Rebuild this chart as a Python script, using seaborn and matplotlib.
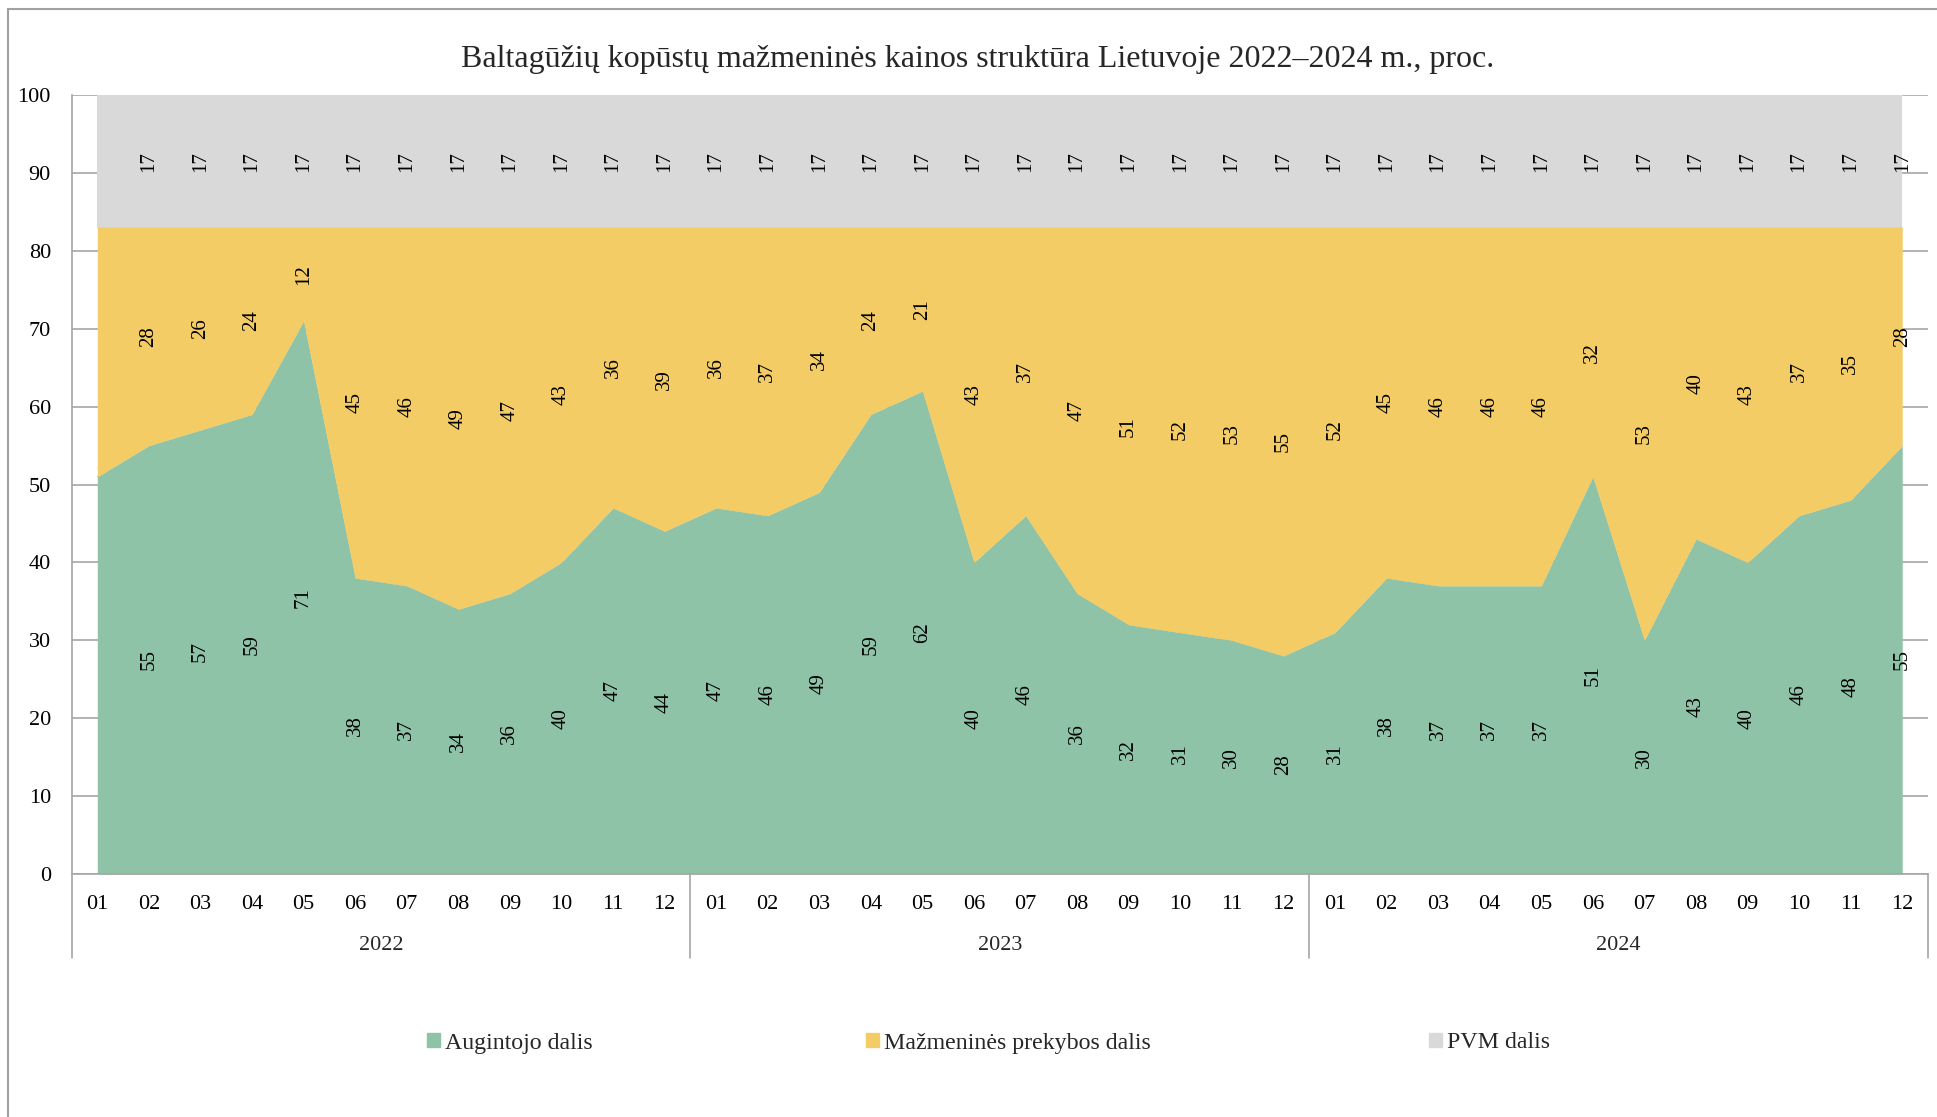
import numpy as np
import pandas as pd
import seaborn as sns
import matplotlib.pyplot as plt
from matplotlib.lines import Line2D
from matplotlib.patches import Patch
import matplotlib.transforms as mtransforms

sns.set_theme(style="white")
plt.rcParams['font.family'] = ['Liberation Serif', 'DejaVu Serif']

years = ["2022", "2023", "2024"]
months = ["01", "02", "03", "04", "05", "06", "07", "08", "09", "10", "11", "12"]

augintojo = [51, 55, 57, 59, 71, 38, 37, 34, 36, 40, 47, 44,
             47, 46, 49, 59, 62, 40, 46, 36, 32, 31, 30, 28,
             31, 38, 37, 37, 37, 51, 30, 43, 40, 46, 48, 55]
prekybos = [32, 28, 26, 24, 12, 45, 46, 49, 47, 43, 36, 39,
            36, 37, 34, 24, 21, 43, 37, 47, 51, 52, 53, 55,
            52, 45, 46, 46, 46, 32, 53, 40, 43, 37, 35, 28]
pvm = [17] * 36

series_names = ["Augintojo dalis", "Mažmeninės prekybos dalis", "PVM dalis"]
palette = {"Augintojo dalis": "#8FC3A7", "Mažmeninės prekybos dalis": "#F4CC66", "PVM dalis": "#D9D9D9"}

n = len(augintojo)
x = np.arange(n)
df = pd.DataFrame({"x": x, "Augintojo dalis": augintojo,
                   "Mažmeninės prekybos dalis": prekybos, "PVM dalis": pvm})

W, H = 1937, 1117
fig = plt.figure(figsize=(W / 100, H / 100), dpi=100)
ax = fig.add_axes([71.5 / W, 1 - 874 / H, (1928 - 71.5) / W, (874 - 95) / H])

# gridlines behind the areas
ax.set_axisbelow(True)
ax.yaxis.grid(True, color="#A6A6A6", linewidth=1.2)
ax.xaxis.grid(False)

bottom = np.zeros(n)
for name in series_names:
    top = bottom + df[name].values
    ax.fill_between(df["x"], bottom, top, color=palette[name], linewidth=0, zorder=2)
    sns.lineplot(x=df["x"], y=top, color=palette[name], linewidth=0.6, ax=ax, zorder=2)
    mids = bottom + df[name].values / 2
    # first month has no data labels in the original
    for i in range(1, n):
        ax.text(x[i], mids[i], str(df[name].values[i]), rotation=90, ha="center", va="center",
                fontsize=15, color="black", zorder=5)
    bottom = top

ax.set_xlim(-0.5, n - 0.5)
ax.set_ylim(0, 100)
ax.set_yticks(range(0, 101, 10))
ax.tick_params(axis="y", length=0, pad=14.8, labelsize=16, colors="black")
ax.set_xticks(x)
ax.set_xticklabels(months * 3)
ax.tick_params(axis="x", length=0, pad=15.3, labelsize=16, colors="black")
ax.set_xlabel("")
ax.set_ylabel("")

for s in ["top", "right"]:
    ax.spines[s].set_visible(False)
for s in ["left", "bottom"]:
    ax.spines[s].set_color("#A6A6A6")
    ax.spines[s].set_linewidth(1.2)

# year group separators and labels
trans = mtransforms.blended_transform_factory(ax.transData, ax.transAxes)
for k in range(len(years) + 1):
    xs = k * 12 - 0.5
    ax.plot([xs, xs], [0, -84 / 779], color="#A6A6A6", linewidth=1.2, transform=trans, clip_on=False)
for k, yr in enumerate(years):
    ax.text(k * 12 + 5.5, -71 / 779, yr, transform=trans, ha="center", va="center", fontsize=16)

fig.text(978 / W, 1 - 60 / H, "Baltagūžių kopūstų mažmeninės kainos struktūra Lietuvoje 2022–2024 m., proc.",
         ha="center", va="center", fontsize=23)

# legend entries
leg_x = [427, 866, 1429]
for name, lx in zip(series_names, leg_x):
    fig.legend(handles=[Patch(color=palette[name])], labels=[name], loc="center left",
               bbox_to_anchor=(lx / W, 1 - 1043 / H), frameon=False, fontsize=17.2,
               handlelength=0.55, handleheight=0.55, handletextpad=0.2, borderaxespad=0, borderpad=0)

# chart frame
fig.add_artist(Line2D([8 / W, 8 / W], [0, 1 - 9 / H], transform=fig.transFigure, color="#A0A0A0", linewidth=1.5))
fig.add_artist(Line2D([8 / W, 1], [1 - 9 / H, 1 - 9 / H], transform=fig.transFigure, color="#A0A0A0", linewidth=1.5))

fig.savefig("out.png", dpi=100)
